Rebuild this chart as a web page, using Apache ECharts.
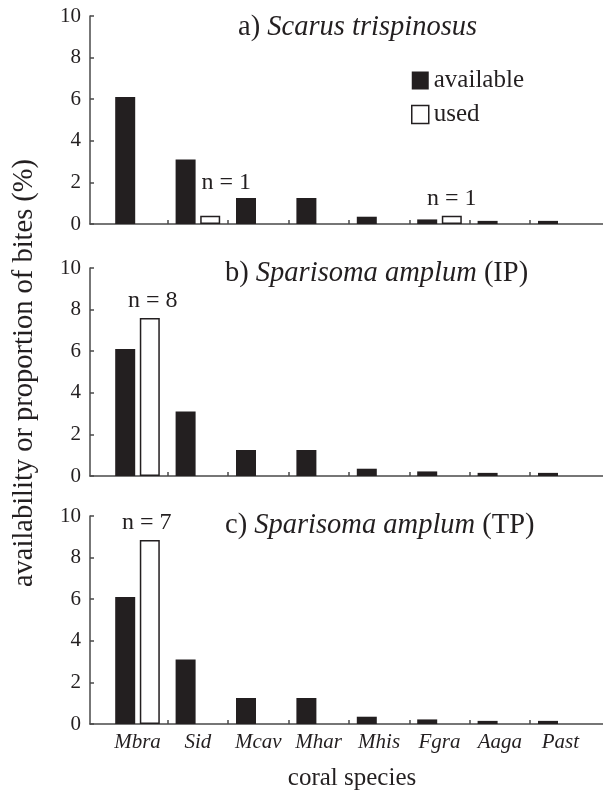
<!DOCTYPE html>
<html>
<head>
<meta charset="utf-8">
<script src="https://cdn.jsdelivr.net/npm/echarts@6/dist/echarts.min.js"></script>
<style>
html,body{margin:0;padding:0;background:#fff;}
#chart{width:603px;height:791px;}
</style>
</head>
<body>
<div id="chart"></div>
<script>
// ---- data ----
const categories = ['Mbra', 'Sid', 'Mcav', 'Mhar', 'Mhis', 'Fgra', 'Aaga', 'Past'];
const available = [6.1, 3.1, 1.25, 1.25, 0.35, 0.22, 0.15, 0.15];
const usedA = [null, 0.4, null, null, null, 0.4, null, null];
const usedB = [7.6, null, null, null, null, null, null, null];
const usedC = [8.85, null, null, null, null, null, null, null];
const notesA = [null, 'n = 1', null, null, null, 'n = 1', null, null];
const notesB = ['n = 8', null, null, null, null, null, null, null];
const notesC = ['n = 7', null, null, null, null, null, null, null];
const yTicks = [0, 2, 4, 6, 8, 10];
const panelTitles = [
  ['a) ', 'Scarus trispinosus', ''],
  ['b) ', 'Sparisoma amplum', ' (IP)'],
  ['c) ', 'Sparisoma amplum', ' (TP)']
];

// ---- layout ----
const FONT = '"Liberation Serif", "DejaVu Serif", serif';
const INK = '#231f20';
const AXIS = '#4a4a4a';
const gridTops = [16, 268, 516];
const gridH = 208;
const gridLeft = 90;
const catStart = 107.3, catW = 60.4;
const xMin = (gridLeft - catStart) / catW;
const xMax = (603 - catStart) / catW;
const titlePos = [[238, 13], [225, 259], [225, 511]];
const noteOffsets = [
  [null, [16, -16], null, null, null, [0, 0], null, null],
  [[3, 0], null, null, null, null, null, null, null],
  [[-3, 0], null, null, null, null, null, null, null]
];
const usedSets = [usedA, usedB, usedC];
const noteSets = [notesA, notesB, notesC];

const grids = [], xAxes = [], yAxes = [], series = [], titles = [];
for (let p = 0; p < 3; p++) {
  grids.push({left: gridLeft, right: 0, top: gridTops[p], height: gridH, containLabel: false});
  xAxes.push({
    gridIndex: p, type: 'value', min: xMin, max: xMax,
    axisLine: {show: true, onZero: false, lineStyle: {color: AXIS, width: 1.5}},
    axisTick: {show: true, inside: true, length: 4, lineStyle: {color: AXIS, width: 1.5},
      customValues: categories.slice(1).map((c, i) => i + 1)},
    axisLabel: {show: p === 2, customValues: categories.map((c, i) => i + 0.5),
      formatter: v => categories[Math.floor(v)],
      fontFamily: FONT, fontStyle: 'italic', fontSize: 21, color: INK, margin: 8},
    splitLine: {show: false}
  });
  yAxes.push({
    gridIndex: p, type: 'value', min: 0, max: 10, interval: 2,
    axisLine: {show: true, onZero: false, lineStyle: {color: AXIS, width: 1.5}},
    axisTick: {show: true, inside: true, length: 4, lineStyle: {color: AXIS, width: 1.5}},
    axisLabel: {fontFamily: FONT, fontSize: 21, color: INK, margin: 9,
      formatter: v => (yTicks.indexOf(v) >= 0 ? String(v) : '')},
    splitLine: {show: false}
  });
  series.push({
    name: 'available', type: 'bar', xAxisIndex: p, yAxisIndex: p,
    barWidth: 20, barGap: '23%',
    itemStyle: {color: INK},
    data: available.map((v, i) => [i + 0.5, v])
  });
  const used = usedSets[p], notes = noteSets[p];
  const usedData = [];
  used.forEach((v, i) => {
    if (v == null) return;
    const item = {value: [i + 0.5, v]};
    if (notes[i]) {
      item.label = {show: true, position: 'top', distance: 5, formatter: notes[i],
        offset: noteOffsets[p][i] || [0, 0],
        fontFamily: FONT, fontSize: 24, color: INK};
    }
    usedData.push(item);
  });
  series.push({
    name: 'used', type: 'bar', xAxisIndex: p, yAxisIndex: p,
    barWidth: 20, barGap: '23%',
    itemStyle: {color: '#ffffff', borderColor: INK, borderWidth: 1.5},
    data: usedData
  });
  const t = panelTitles[p];
  titles.push({
    left: titlePos[p][0], top: titlePos[p][1], padding: 0,
    text: '{r|' + t[0] + '}{i|' + t[1] + '}' + (t[2] ? '{r|' + t[2] + '}' : ''),
    textStyle: {fontWeight: 'normal', rich: {
      r: {fontFamily: FONT, fontSize: 28.5, color: INK, fontStyle: 'normal', fontWeight: 'normal'},
      i: {fontFamily: FONT, fontSize: 28.5, color: INK, fontStyle: 'italic', fontWeight: 'normal'}
    }}
  });
}

const chart = echarts.init(document.getElementById('chart'), null, {renderer: 'canvas'});
chart.setOption({
  animation: false,
  backgroundColor: '#ffffff',
  title: titles,
  legend: {
    left: 411, top: 68, orient: 'vertical', itemWidth: 17, itemHeight: 18, itemGap: 9,
    icon: 'rect', selectedMode: false, padding: 0,
    textStyle: {fontFamily: FONT, fontSize: 25, color: INK},
    data: [
      {name: 'available', itemStyle: {color: INK}},
      {name: 'used', itemStyle: {color: '#ffffff', borderColor: INK, borderWidth: 1.5}}
    ]
  },
  grid: grids, xAxis: xAxes, yAxis: yAxes, series: series,
  graphic: [
    {type: 'text', x: 25, y: 373, rotation: Math.PI / 2,
      style: {text: 'availability or proportion of bites (%)', fontFamily: FONT, fontSize: 28.5,
        fill: INK, align: 'center', verticalAlign: 'middle'}},
    {type: 'text', x: 352, y: 778,
      style: {text: 'coral species', fontFamily: FONT, fontSize: 25, fill: INK,
        align: 'center', verticalAlign: 'middle'}}
  ]
});
</script>
</body>
</html>
